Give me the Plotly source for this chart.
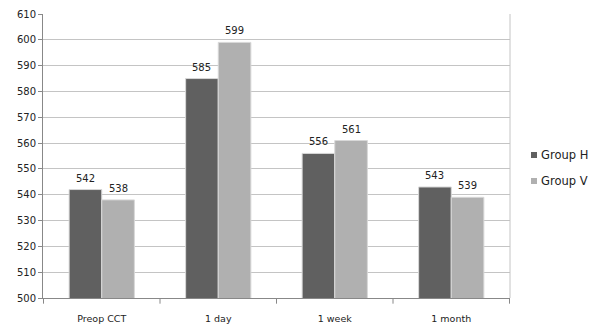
import plotly.graph_objects as go

categories = ["Preop CCT", "1 day", "1 week", "1 month"]
group_h = [542, 585, 556, 543]
group_v = [538, 599, 561, 539]
y_ticks = list(range(500, 611, 10))
series_names = ["Group H", "Group V"]
series_colors = ["#606060", "#b0b0b0"]

font = "DejaVu Sans, sans-serif"

L, R, T, B = 43, 92, 14, 29
W, H = 602, 327
pw, ph = W - L - R, H - T - B
bargap = 0.44

fig = go.Figure()
for name, vals, col in zip(series_names, [group_h, group_v], series_colors):
    fig.add_trace(go.Bar(x=categories, y=vals, name=name,
                         marker=dict(color=col, line=dict(color="#d8d8d8", width=1)),
                         showlegend=False))

fig.update_layout(
    width=W, height=H,
    margin=dict(l=L, r=R, t=T, b=B, autoexpand=False),
    paper_bgcolor="white", plot_bgcolor="white",
    barmode="group", bargap=bargap, bargroupgap=0.0,
    font=dict(family=font, size=10, color="#222"),
    showlegend=False,
    xaxis=dict(showline=True, linecolor="#888", linewidth=1,
               ticks="", tickfont=dict(size=9.5), mirror=False,
               showgrid=False, ticklabelstandoff=12),
    yaxis=dict(range=[500, 610], tickvals=y_ticks, showline=True, linecolor="#888",
               linewidth=1, ticks="outside", ticklen=4, tickcolor="#888",
               showgrid=True, gridcolor="#c4c4c4", gridwidth=1,
               tickfont=dict(size=10), zeroline=False),
)

# value labels above bars (offset half a bar width from category centre)
bar_px = pw / len(categories) * (1 - bargap) / len(series_names)
for k, vals in enumerate([group_h, group_v]):
    shift = (k - (len(series_names) - 1) / 2) * bar_px
    for cat, v in zip(categories, vals):
        fig.add_annotation(x=cat, y=v, xref="x", yref="y", text=str(v),
                           showarrow=False, xanchor="center", yanchor="bottom",
                           xshift=shift, yshift=4,
                           font=dict(size=10, family=font, color="#222"))

# right border of plot area
fig.add_shape(type="line", xref="paper", yref="paper", x0=1, x1=1, y0=0, y1=1,
              line=dict(color="#c4c4c4", width=1))
# category separator ticks on x axis
for i in range(len(categories) + 1):
    fig.add_shape(type="line", xref="x", yref="paper", x0=i - 0.5, x1=i - 0.5,
                  y0=0, y1=-0.02, line=dict(color="#888", width=1))

# manual legend (pixel positions converted to paper coords)
def px_x(px):
    return (px - L) / pw

def px_y(py):
    return (H - B - py) / ph

for k, (name, col) in enumerate(zip(series_names, series_colors)):
    cy = 155 + 26 * k
    fig.add_shape(type="rect", xref="paper", yref="paper",
                  x0=px_x(531), x1=px_x(537), y0=px_y(cy + 3), y1=px_y(cy - 3),
                  fillcolor=col, line=dict(width=0))
    fig.add_annotation(xref="paper", yref="paper", x=px_x(539), y=px_y(cy),
                       xanchor="left", yanchor="middle", showarrow=False,
                       text=name, font=dict(size=11.5, family=font, color="#222"))

fig.write_html("out.html")
